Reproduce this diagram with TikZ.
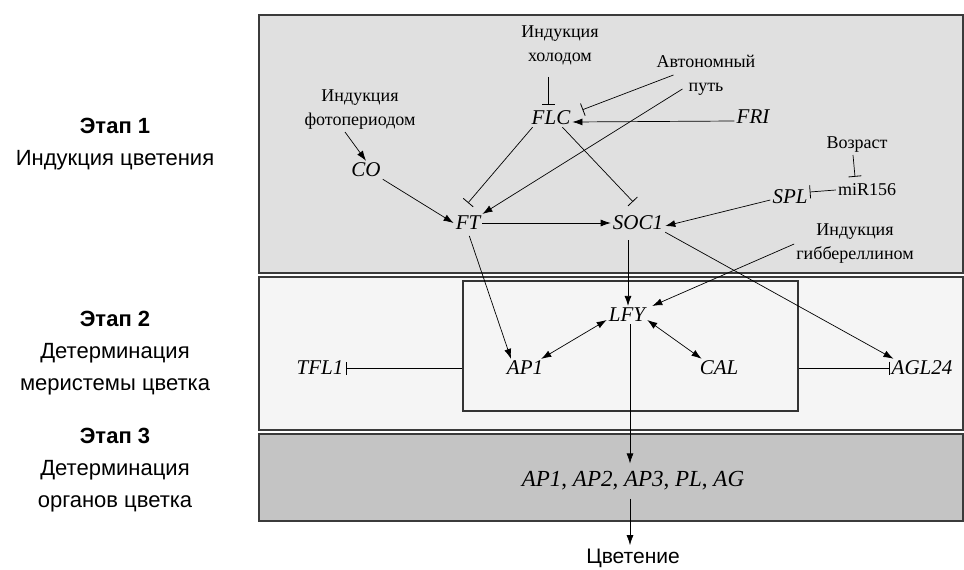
\documentclass[tikz,border=0pt]{standalone}
\usepackage{fontspec}
\setmainfont{Liberation Serif}
\setsansfont{Liberation Sans}
\usetikzlibrary{arrows.meta}
\usetikzlibrary{calc}
\usetikzlibrary{positioning}

\tikzset{
  Head/.tip={Latex[length=10pt,width=7pt]},
  Stop/.tip={Bar[width=13pt,line width=0.8pt]},
  panel/.style={draw=black!77, line width=2.2pt},
  gene/.style={font=\fontsize{21}{24}\selectfont\itshape, inner sep=2pt},
  cue/.style={font=\fontsize{18}{24}\selectfont, align=center, inner sep=2pt},
  stage/.style={font=\sffamily\fontsize{22}{32}\selectfont, align=center},
  act/.style={-Head, line width=0.7pt},
  both/.style={Head-Head, line width=0.7pt},
  inh/.style={-Stop, line width=0.7pt},
}

\begin{document}
\begin{tikzpicture}[x=1pt,y=-1pt]
        \useasboundingbox (0,0) rectangle (964,570);

        % Panels
        \draw[panel, fill=black!12] (259,15) rectangle (963,273);
        \draw[panel, fill=black!4] (259,277) rectangle (963,430);
        \draw[panel, fill=black!23] (259,434) rectangle (963,521);
        \node[draw=black!80, line width=1.6pt, minimum width=335, minimum height=130] (core) at (630.5,346) {};

        % Stages
        \node[stage] (st1) at (115,144) {\textbf{Этап 1}\\Индукция цветения};
        \node[stage] (st2) at (115,353) {\textbf{Этап 2}\\Детерминация\\меристемы цветка};
        \node[stage] (st3) at (115,470) {\textbf{Этап 3}\\Детерминация\\органов цветка};

        % Signals and genes
        \node[cue] (cold) at (560,45) {Индукция\\холодом};
        \node[gene] (FLC) at (551,118) {FLC};
        \node[cue] (auto) at (706,75) {Автономный\\путь};
        \node[gene] (FRI) at (753,117) {FRI};
        \node[cue] (photo) at (360,110) {Индукция\\фотопериодом};
        \node[gene] (CO) at (366,170) {CO};
        \node[gene] (FT) at (468,223) {FT};
        \node[gene] (SOC1) at (638,223) {SOC1};
        \node[cue] (age) at (857,145) {Возраст};
        \node[cue] (miR) at (867,190) {miR156};
        \node[gene] (SPL) at (790,197) {SPL};
        \node[cue] (gib) at (855,244) {Индукция\\гиббереллином};
        \node[gene] (LFY) at (627,315) {LFY};
        \node[gene] (AP1) at (525,368) {AP1};
        \node[gene] (CAL) at (719,368) {CAL};
        \node[gene] (TFL1) at (320,368) {TFL1};
        \node[gene] (AGL24) at (922,368) {AGL24};
        \node[gene, font=\fontsize{23}{26}\selectfont\itshape] (organs) at (633,481) {AP1\textup{,} AP2\textup{,} AP3\textup{,} PL\textup{,} AG};
        \node[font=\sffamily\fontsize{21}{24}\selectfont] (bloom) at (633,558) {Цветение};

        % Stage 1
        \draw[act] ([xshift=-15pt]photo.south) -- (CO.north);
        \draw[act] (CO.south east) -- (FT.west);
        \draw[inh, shorten <=10pt] ([xshift=-12pt]cold.south) -- ([xshift=-3pt,yshift=4pt]FLC.north);
        \draw[inh] ([xshift=19pt]auto.west) -- ([xshift=10pt,yshift=-1pt]FLC.north east);
        \draw[act] ([xshift=28pt,yshift=-14pt]auto.west) -- (FT.north east);
        \draw[act] ([yshift=-4pt]FRI.west) -- ([yshift=-4pt]FLC.east);
        \draw[inh] ([xshift=3pt]FLC.south west) -- ([yshift=11pt]FT.north);
        \draw[inh] ([xshift=-10pt]FLC.south east) -- ([xshift=-5pt,yshift=12pt]SOC1.north);
        \draw[act] (FT.east) -- (SOC1.west);
        \draw[inh] ([xshift=-4pt]age.south) -- ([xshift=-12pt,yshift=5pt]miR.north);
        \draw[inh] (miR.west) -- ([yshift=5pt]SPL.east);
        \draw[act] ([yshift=-3pt]SPL.west) -- ([yshift=-3pt]SOC1.east);

        % Stage 2
        \draw[act, shorten <=8pt] ([xshift=-10pt]SOC1.south) -- ([xshift=1pt]LFY.north);
        \draw[act, shorten <=4pt] (FT.south) -- ([xshift=-14pt]AP1.north);
        \draw[act] (SOC1.south east) -- ([xshift=4pt]AGL24.north west);
        \draw[act] (gib.west) -- ([xshift=5pt]LFY.north east);
        \draw[both] ([yshift=-5pt]LFY.west) -- ([xshift=-4pt]AP1.north east);
        \draw[both] ([yshift=-5pt]LFY.east) -- ([xshift=4pt]CAL.north west);
        \draw[inh] (core.west |- TFL1) -- (TFL1.east);
        \draw[inh] (core.east |- AGL24) -- (AGL24.west);

        % Stage 3
        \draw[act] ([xshift=3pt]LFY.south) -- ([xshift=-3pt,yshift=6pt]organs.north);
        \draw[act, shorten <=6pt] ([xshift=-3pt]organs.south) -- ([xshift=-3pt]bloom.north);
      \end{tikzpicture}
\end{document}
